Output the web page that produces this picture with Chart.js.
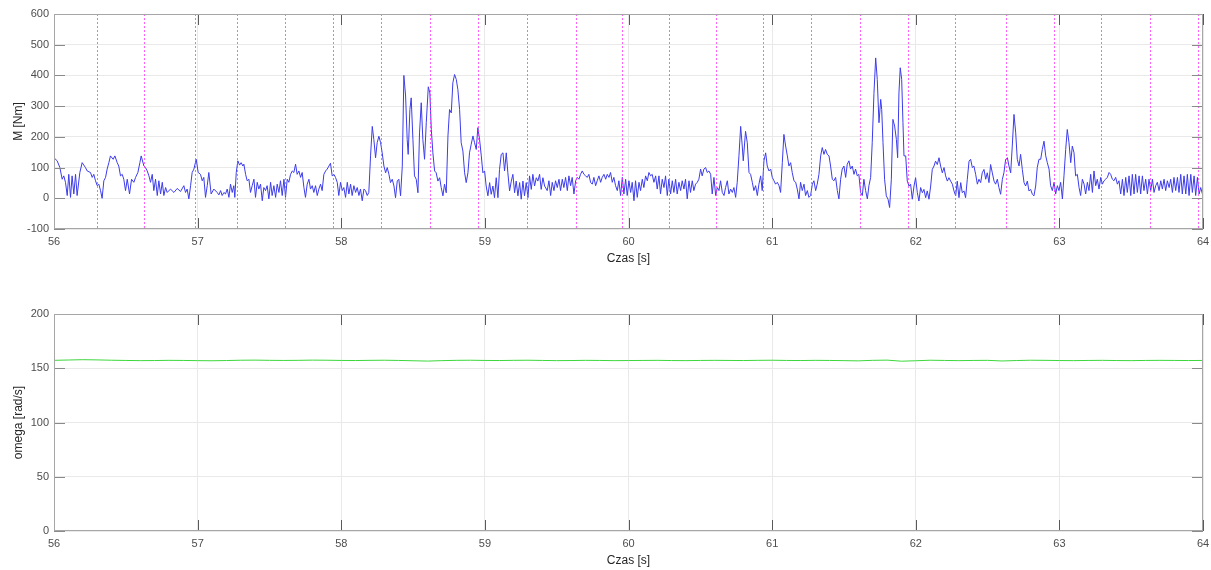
<!DOCTYPE html>
<html lang="pl">
<head>
<meta charset="utf-8">
<title>M [Nm] i omega [rad/s]</title>
<script src="https://cdn.jsdelivr.net/npm/chart.js@4.4.1/dist/chart.umd.min.js"></script>
<style>
  html, body { margin: 0; padding: 0; background: #fff; }
  body { width: 1211px; height: 570px; position: relative; overflow: hidden; }
  .painel { position: absolute; left: 0; width: 1211px; }
  #painelM { top: 0; height: 268px; }
  #painelOmega { top: 285px; height: 285px; }
</style>
</head>
<body>
<div class="painel" id="painelM"><canvas id="graficoM"></canvas></div>
<div class="painel" id="painelOmega"><canvas id="graficoOmega"></canvas></div>
<script>
// Momento M [Nm], pares [tempo s, valor]
const torque56 = [[56.000,132],[56.022,122],[56.041,100],[56.057,62],[56.068,73],[56.080,52],[56.092,9],[56.103,78],[56.115,3],[56.126,73],[56.138,14],[56.150,78],[56.161,9],[56.180,84],[56.196,116],[56.219,100],[56.231,89],[56.254,84],[56.266,68],[56.277,78],[56.289,57],[56.301,41],[56.312,46],[56.324,25],[56.335,0],[56.347,57],[56.359,68],[56.370,95],[56.382,116],[56.393,138],[56.412,127],[56.424,138],[56.440,116],[56.451,105],[56.463,73],[56.475,78],[56.486,62],[56.498,25],[56.510,62],[56.526,14],[56.540,62],[56.556,52],[56.568,68],[56.584,84],[56.598,116],[56.607,138],[56.626,105],[56.637,100],[56.649,89],[56.661,73],[56.672,52],[56.684,78],[56.695,25],[56.707,62],[56.719,9],[56.730,57],[56.742,14],[56.754,52],[56.765,9],[56.777,35],[56.788,19],[56.811,30],[56.835,19],[56.858,32],[56.881,22],[56.904,41],[56.916,19],[56.927,30],[56.939,-2],[56.951,41],[56.962,84],[56.974,95],[56.990,127],[57.004,84],[57.020,78],[57.032,57],[57.043,68],[57.055,3],[57.067,41],[57.078,84],[57.094,14],[57.113,30]];
const torque57 = [[57.136,19],[57.148,11],[57.160,25],[57.171,9],[57.183,19],[57.194,14],[57.206,30],[57.218,3],[57.229,46],[57.241,19],[57.252,41],[57.259,3],[57.269,84],[57.280,122],[57.292,108],[57.303,116],[57.315,105],[57.322,111],[57.334,78],[57.345,57],[57.357,62],[57.368,19],[57.380,41],[57.392,62],[57.403,3],[57.415,52],[57.426,30],[57.438,46],[57.450,-8],[57.461,35],[57.473,25],[57.484,41],[57.496,-2],[57.508,52],[57.519,9],[57.531,41],[57.543,3],[57.554,46],[57.566,19],[57.577,57],[57.589,9],[57.601,62],[57.612,3],[57.624,62],[57.635,52],[57.647,78],[57.659,89],[57.670,84],[57.682,111],[57.693,78],[57.705,89],[57.717,68],[57.728,84],[57.740,35],[57.751,3],[57.763,46],[57.775,62],[57.786,30],[57.798,41],[57.809,19],[57.821,41],[57.833,9],[57.844,30],[57.856,46],[57.867,25],[57.879,78],[57.891,89],[57.902,95],[57.914,105],[57.925,114],[57.937,73],[57.949,78],[57.960,68],[57.972,52],[57.983,9],[57.995,52],[58.007,25],[58.018,35],[58.030,3],[58.042,52],[58.053,14],[58.065,46],[58.076,9],[58.088,41],[58.100,19],[58.111,35],[58.123,9],[58.134,30],[58.146,-8],[58.158,30],[58.169,25],[58.181,9],[58.192,19],[58.204,138],[58.216,234],[58.227,191],[58.239,132],[58.250,181],[58.262,202]];
const torque58 = [[58.274,181],[58.285,148],[58.297,105],[58.309,83],[58.320,100],[58.332,78],[58.343,51],[58.355,62],[58.367,40],[58.378,2],[58.390,56],[58.401,62],[58.413,8],[58.425,105],[58.436,400],[58.448,333],[58.459,192],[58.466,143],[58.478,289],[58.487,327],[58.499,192],[58.510,73],[58.522,62],[58.534,18],[58.545,213],[58.557,311],[58.568,192],[58.580,127],[58.592,246],[58.606,363],[58.617,343],[58.627,224],[58.638,148],[58.650,89],[58.661,83],[58.673,56],[58.685,67],[58.696,35],[58.708,8],[58.719,46],[58.731,18],[58.743,203],[58.754,289],[58.766,278],[58.777,376],[58.789,403],[58.801,387],[58.812,354],[58.824,289],[58.835,181],[58.847,154],[58.859,83],[58.870,51],[58.882,83],[58.893,148],[58.905,176],[58.917,203],[58.928,181],[58.940,159],[58.951,230],[58.963,192],[58.975,138],[58.986,83],[58.998,89],[59.009,40],[59.021,8],[59.033,51],[59.044,13],[59.056,40],[59.067,2],[59.079,67],[59.091,2],[59.102,94],[59.114,143],[59.126,148],[59.137,89],[59.149,148],[59.160,83],[59.172,24],[59.184,56],[59.195,78],[59.207,18],[59.218,56],[59.230,8],[59.242,51],[59.253,-3],[59.265,56],[59.276,8],[59.288,51],[59.300,2],[59.311,73],[59.323,29],[59.334,78],[59.346,40],[59.358,67],[59.369,56],[59.381,78],[59.392,29],[59.404,67],[59.416,40]];
const torque59 = [[59.434,25],[59.446,57],[59.458,9],[59.469,52],[59.481,25],[59.492,57],[59.504,35],[59.516,62],[59.527,25],[59.539,62],[59.550,35],[59.562,68],[59.574,25],[59.585,73],[59.597,41],[59.608,68],[59.620,14],[59.632,57],[59.643,68],[59.655,62],[59.666,78],[59.678,89],[59.690,78],[59.701,73],[59.713,68],[59.724,78],[59.736,52],[59.748,46],[59.759,68],[59.771,41],[59.782,57],[59.794,73],[59.806,52],[59.817,68],[59.829,78],[59.841,62],[59.852,78],[59.864,68],[59.875,84],[59.887,52],[59.898,68],[59.910,41],[59.922,25],[59.933,57],[59.945,9],[59.957,68],[59.968,14],[59.980,62],[59.991,9],[60.003,57],[60.015,19],[60.026,52],[60.038,-8],[60.049,57],[60.061,3],[60.073,52],[60.084,25],[60.096,62],[60.107,35],[60.119,73],[60.131,57],[60.142,84],[60.154,73],[60.165,78],[60.177,52],[60.189,73],[60.200,30],[60.212,73],[60.223,14],[60.235,62],[60.247,35],[60.258,73],[60.270,9],[60.281,62],[60.293,14],[60.305,57],[60.316,19],[60.328,62],[60.339,14],[60.351,52],[60.363,25],[60.374,57],[60.386,30],[60.397,62],[60.409,-2],[60.421,57],[60.432,19],[60.444,57],[60.455,25],[60.467,46],[60.479,52],[60.490,62],[60.502,95],[60.513,73],[60.525,95],[60.537,100],[60.548,84],[60.560,89]];
const torque60 = [[60.572,78],[60.583,14],[60.595,68],[60.607,9],[60.618,35],[60.630,25],[60.641,57],[60.653,19],[60.665,9],[60.676,35],[60.688,57],[60.699,14],[60.711,30],[60.723,19],[60.734,35],[60.746,3],[60.757,52],[60.769,138],[60.781,234],[60.792,170],[60.799,122],[60.815,218],[60.827,181],[60.839,84],[60.850,78],[60.862,52],[60.873,25],[60.885,41],[60.897,9],[60.908,46],[60.920,73],[60.931,25],[60.943,122],[60.955,148],[60.966,105],[60.978,89],[60.990,95],[61.001,68],[61.013,57],[61.024,46],[61.036,52],[61.048,41],[61.059,19],[61.071,116],[61.082,208],[61.094,170],[61.106,138],[61.117,105],[61.129,116],[61.140,84],[61.152,57],[61.164,52],[61.175,30],[61.187,-2],[61.198,52],[61.210,25],[61.222,46],[61.233,9],[61.245,25],[61.256,3],[61.268,9],[61.280,46],[61.291,57],[61.303,25],[61.314,46],[61.326,78],[61.338,138],[61.349,165],[61.361,143],[61.372,159],[61.384,143],[61.396,138],[61.407,105],[61.419,62],[61.430,57],[61.442,68],[61.454,25],[61.465,-2],[61.477,62],[61.488,95],[61.500,105],[61.512,68],[61.523,111],[61.535,122],[61.546,95],[61.558,105],[61.570,78],[61.581,95],[61.593,73],[61.604,78],[61.616,19],[61.628,9],[61.639,62],[61.651,25],[61.663,-2],[61.674,41],[61.686,68],[61.697,181],[61.709,342]];
const torque61 = [[61.721,457],[61.732,387],[61.744,246],[61.756,322],[61.763,289],[61.772,181],[61.783,62],[61.795,8],[61.807,-3],[61.818,-30],[61.830,62],[61.841,257],[61.853,235],[61.865,192],[61.874,132],[61.883,343],[61.892,425],[61.902,387],[61.911,246],[61.918,138],[61.930,138],[61.941,56],[61.953,40],[61.964,46],[61.976,-3],[61.988,40],[61.999,67],[62.011,18],[62.022,-9],[62.034,35],[62.046,18],[62.057,29],[62.069,2],[62.080,24],[62.092,-3],[62.104,40],[62.115,94],[62.127,105],[62.138,121],[62.150,110],[62.162,132],[62.173,105],[62.185,83],[62.197,100],[62.208,73],[62.220,56],[62.231,67],[62.243,56],[62.255,46],[62.266,24],[62.278,8],[62.289,56],[62.301,2],[62.313,51],[62.324,18],[62.336,24],[62.347,2],[62.359,62],[62.371,121],[62.382,127],[62.394,100],[62.405,105],[62.417,78],[62.429,46],[62.440,62],[62.452,51],[62.463,83],[62.475,94],[62.487,62],[62.498,83],[62.510,51],[62.521,110],[62.533,83],[62.545,56],[62.556,46],[62.568,62],[62.579,35],[62.591,13],[62.603,62],[62.614,83],[62.626,127],[62.638,132],[62.649,105],[62.661,83],[62.672,170],[62.684,273],[62.696,213],[62.707,127],[62.719,105],[62.730,143],[62.742,94],[62.754,51],[62.765,40],[62.777,56],[62.788,24],[62.800,29],[62.812,13],[62.823,8],[62.835,40],[62.846,100],[62.858,127]];
const torque62 = [[62.870,127],[62.881,159],[62.893,186],[62.905,138],[62.916,116],[62.928,95],[62.939,41],[62.951,25],[62.963,52],[62.974,14],[62.986,41],[62.997,25],[63.009,52],[63.021,-2],[63.032,73],[63.044,159],[63.055,224],[63.067,181],[63.079,116],[63.090,170],[63.102,148],[63.113,73],[63.125,78],[63.137,35],[63.148,9],[63.160,62],[63.172,46],[63.183,14],[63.195,52],[63.206,25],[63.218,78],[63.230,19],[63.241,89],[63.253,41],[63.264,62],[63.276,30],[63.288,68],[63.299,46],[63.311,57],[63.322,62],[63.334,68],[63.346,84],[63.357,78],[63.369,62],[63.380,57],[63.392,68],[63.404,46],[63.415,57],[63.427,14],[63.439,62],[63.450,9],[63.462,68],[63.473,19],[63.485,73],[63.497,9],[63.508,78],[63.520,14],[63.531,78],[63.543,19],[63.555,73],[63.566,14],[63.578,73],[63.589,25],[63.601,62],[63.613,14],[63.624,62],[63.636,25],[63.648,62],[63.659,19],[63.671,41],[63.682,52],[63.694,25],[63.706,57],[63.717,30],[63.729,62],[63.740,25],[63.752,57],[63.764,35],[63.775,62],[63.787,19],[63.798,68],[63.810,25],[63.822,68],[63.833,19],[63.845,78],[63.856,14],[63.868,73],[63.880,14],[63.891,78],[63.903,9],[63.915,78],[63.926,19],[63.938,73],[63.949,9],[63.961,68],[63.973,14],[63.984,35],[63.996,14]];

// Instantes das linhas tracejadas magenta (s)
const marcadores = [56.301, 56.630, 56.980, 57.275, 57.607, 57.944, 58.278, 58.616, 58.950, 59.294, 59.632, 59.953, 60.280, 60.607, 60.937, 61.271, 61.609, 61.948, 62.276, 62.626, 62.965, 63.290, 63.628, 63.965];

// Velocidade omega [rad/s], uma amostra a cada 0.1 s a partir de 56 s
const inicioOmega = 56;
const passoOmega = 0.1;
const omega = [157.3,157.6,157.9,157.7,157.4,157.2,157.0,157.1,157.3,157.2,157.0,156.9,157.1,157.4,157.5,157.3,157.2,157.3,157.5,157.4,157.2,157.1,157.3,157.4,157.2,156.9,156.6,157.0,157.3,157.4,157.2,157.1,157.3,157.4,157.2,157.0,157.1,157.3,157.2,157.0,157.1,157.2,157.3,157.1,157.0,157.2,157.3,157.2,157.1,157.3,157.4,157.2,157.1,157.3,157.2,157.0,156.8,157.3,157.5,156.5,156.9,157.4,157.2,157.0,157.2,157.3,156.7,157.1,157.4,157.3,157.1,157.0,157.2,157.3,157.1,157.0,157.2,157.3,157.2,157.1,157.2];

// Rótulos dos eixos
const rotuloX = 'Czas [s]';
const rotuloM = 'M [Nm]';
const rotuloOmega = 'omega [rad/s]';

const FONTE = '"Liberation Sans", Arial, Helvetica, sans-serif';

/**
 * Desenha a moldura estilo MATLAB: caixa, marcas internas e linhas verticais.
 */
const moldura = {
    id: 'moldura',
    afterDatasetsDraw(chart, args, opts) {
        const { ctx, chartArea: a, scales: { x, y } } = chart;
        ctx.save();
        ctx.lineWidth = 1;

        if (opts.marcas) {
            ctx.strokeStyle = 'rgba(255,40,255,0.75)';
            ctx.setLineDash([2, 2]);
            opts.marcas.forEach(t => {
                const px = Math.round(x.getPixelForValue(t)) + 0.5;
                ctx.beginPath();
                ctx.moveTo(px, a.top);
                ctx.lineTo(px, a.bottom);
                ctx.stroke();
            });
            ctx.setLineDash([]);
        }

        const L = 11;
        ctx.strokeStyle = '#5a5a5a';
        x.ticks.forEach(tk => {
            const px = Math.round(x.getPixelForValue(tk.value)) + 0.5;
            ctx.beginPath();
            ctx.moveTo(px, a.top); ctx.lineTo(px, a.top + L);
            ctx.moveTo(px, a.bottom); ctx.lineTo(px, a.bottom - L);
            ctx.stroke();
        });
        ctx.strokeStyle = '#8a8a8a';
        y.ticks.forEach(tk => {
            const py = Math.round(y.getPixelForValue(tk.value)) + 0.5;
            ctx.beginPath();
            ctx.moveTo(a.left, py); ctx.lineTo(a.left + L, py);
            ctx.moveTo(a.right, py); ctx.lineTo(a.right - L, py);
            ctx.stroke();
        });

        ctx.strokeStyle = '#a6a6a6';
        ctx.strokeRect(Math.round(a.left) + 0.5, Math.round(a.top) + 0.5,
            Math.round(a.width) - 1, Math.round(a.height) - 1);
        ctx.restore();
    }
};

function opcoesEixos(yMin, yMax, yPasso, tituloY) {
    return {
        x: {
            type: 'linear',
            min: 56, max: 64,
            // altura fixa e sem folga lateral extra, para a área ir até 1203 px
            afterFit: s => { s.height = 39; s.paddingLeft = 0; s.paddingRight = 0; },
            grid: { color: '#e9e9e9', drawTicks: false },
            border: { display: false },
            ticks: { stepSize: 1, padding: 6, color: '#4d4d4d', font: { family: FONTE, size: 11 } },
            title: { display: true, text: rotuloX, color: '#262626', padding: { top: 0, bottom: 2 }, font: { family: FONTE, size: 12 } }
        },
        y: {
            min: yMin, max: yMax,
            afterFit: s => { s.width = 54; },
            grid: { color: '#e9e9e9', drawTicks: false },
            border: { display: false },
            ticks: { stepSize: yPasso, padding: 5, color: '#4d4d4d', font: { family: FONTE, size: 11 } },
            title: { display: true, text: tituloY, color: '#262626', padding: { top: 11, bottom: 0 }, font: { family: FONTE, size: 12 } }
        }
    };
}

function criarGrafico(id, dados, cor, escalas, padTopo, marcas) {
    return new Chart(document.getElementById(id), {
        type: 'line',
        data: {
            datasets: [{
                data: dados,
                borderColor: cor,
                borderWidth: 1,
                pointRadius: 0,
                tension: 0,
                fill: false
            }]
        },
        options: {
            responsive: true,
            maintainAspectRatio: false,
            animation: false,
            parsing: false,
            layout: { padding: { top: padTopo, right: 8, bottom: 0, left: 0 } },
            scales: escalas,
            plugins: {
                legend: { display: false },
                tooltip: { enabled: false },
                moldura: { marcas: marcas }
            }
        },
        plugins: [moldura]
    });
}

const serieM = [torque56, torque57, torque58, torque59, torque60, torque61, torque62]
    .flat()
    .map(([t, v]) => ({ x: t, y: v }));
const serieOmega = omega.map((v, i) => ({ x: inicioOmega + i * passoOmega, y: v }));

criarGrafico('graficoM', serieM, 'rgb(60,60,235)', opcoesEixos(-100, 600, 100, rotuloM), 14, marcadores);
criarGrafico('graficoOmega', serieOmega, 'rgb(60,215,60)', opcoesEixos(0, 200, 50, rotuloOmega), 29, null);
</script>
</body>
</html>
